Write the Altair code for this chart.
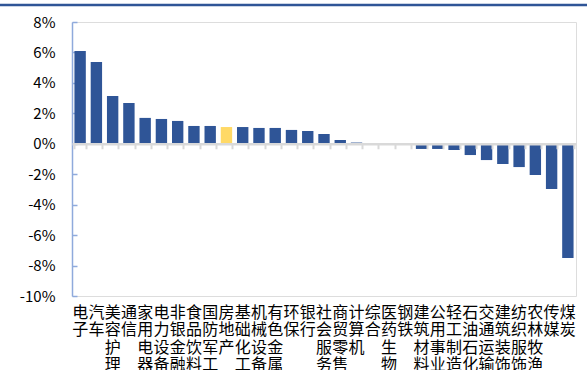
import altair as alt
import pandas as pd

# Industry index returns (%), sorted from best to worst
industries = [
    "电子", "汽车", "美容护理", "通信", "家用电器", "电力设备", "非银金融", "食品饮料",
    "国防军工", "房地产", "基础化工", "机械设备", "有色金属", "环保", "银行", "社会服务",
    "商贸零售", "计算机", "综合", "医药生物", "钢铁", "建筑材料", "公用事业", "轻工制造",
    "石油石化", "交通运输", "建筑装饰", "纺织服饰", "农林牧渔", "传媒", "煤炭",
]
returns = [
    6.10, 5.37, 3.14, 2.68, 1.70, 1.63, 1.50, 1.17,
    1.17, 1.10, 1.10, 1.04, 1.04, 0.91, 0.84, 0.64,
    0.25, 0.08, 0.01, -0.05, -0.05, -0.34, -0.34, -0.41,
    -0.74, -1.07, -1.33, -1.53, -2.05, -2.97, -7.50,
]
highlight = "房地产"
y_ticks = [-10, -8, -6, -4, -2, 0, 2, 4, 6, 8]
y_domain = [-10, 8]

BLUE = "#2F5597"
GOLD = "#FFD966"
FONT = "Noto Sans CJK SC"

W, H = 504, 274
zero_px = H * y_domain[1] / (y_domain[1] - y_domain[0])

df = pd.DataFrame({"industry": industries, "ret": returns})
df["hl"] = df["industry"] == highlight

x_scale = alt.Scale(paddingInner=0.3, paddingOuter=0.15)
y_scale = alt.Scale(domain=y_domain, nice=False, zero=False)

# Bars with category labels along the bottom and percentage labels on the left
bars = alt.Chart(df).mark_bar().encode(
    x=alt.X(
        "industry:N", sort=industries, scale=x_scale,
        axis=alt.Axis(
            title=None, labelAngle=0, domain=False, ticks=False,
            labelExpr="split(datum.label, '')",
            labelFont=FONT, labelFontSize=16, labelLineHeight=17.5,
            labelColor="#000000", labelPadding=8, labelBaseline="top",
        ),
    ),
    y=alt.Y(
        "ret:Q", scale=y_scale,
        axis=alt.Axis(
            title=None, values=y_ticks, labelExpr="datum.value + '%'",
            grid=False, ticks=False, domainColor="#8FAADC", domainWidth=1.5,
            labelFont=FONT, labelFontSize=15, labelColor="#000000",
            labelPadding=17,
        ),
    ),
    color=alt.condition(alt.datum.hl, alt.value(GOLD), alt.value(BLUE)),
)

# Zero line with category separators, and inward ticks on the value axis
guides = alt.Chart(df).mark_point(opacity=0).encode(
    x=alt.X(
        "industry:N", sort=industries, scale=x_scale,
        axis=alt.Axis(
            title=None, orient="bottom", offset=-(H - zero_px), labels=False,
            domainColor="#D9D9D9", domainWidth=2.5, tickColor="#D9D9D9",
            tickWidth=2, tickSize=5, tickBand="extent", zindex=1,
        ),
    ),
    y=alt.Y(
        "ret:Q", scale=y_scale,
        axis=alt.Axis(
            title=None, orient="right", offset=-W, values=y_ticks, labels=False,
            domain=False, grid=False, tickColor="#8FAADC", tickWidth=1.5, tickSize=5,
        ),
    ),
)

# Rule across the top of the figure
top_rule = alt.Chart(pd.DataFrame({"k": [0]})).mark_rule(
    color=BLUE, strokeWidth=2.5
).encode(x=alt.value(-72), x2=alt.value(W + 11), y=alt.value(-17))

chart = alt.layer(bars, guides, top_rule).resolve_axis(
    x="independent", y="independent"
).properties(
    width=W, height=H,
    autosize=alt.AutoSizeParams(type="none"),
    padding={"left": 72, "top": 22, "right": 11, "bottom": 74},
).configure_view(stroke=None).configure(background="white")

chart.save("out.html", embed_options={"renderer": "svg", "actions": False})
